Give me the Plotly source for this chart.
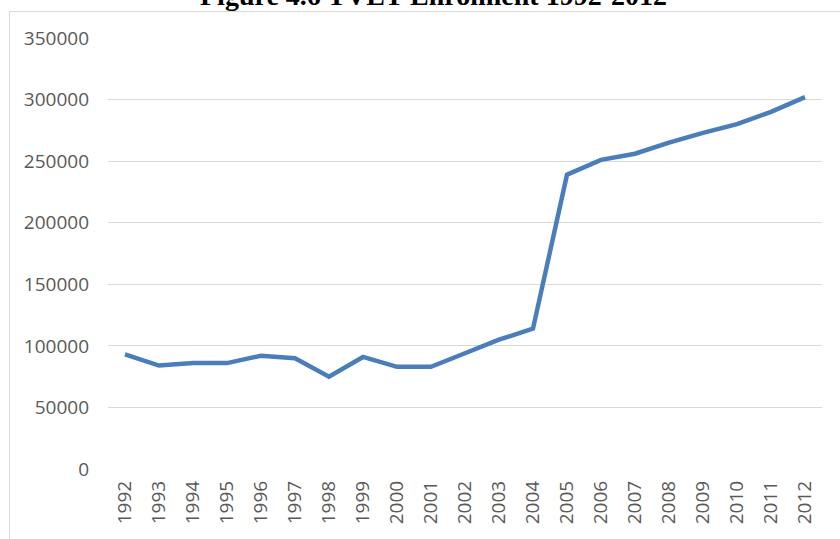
import plotly.graph_objects as go

years = [str(y) for y in range(1992, 2013)]
enrolment = [93000, 84000, 86000, 86000, 92000, 90000, 75000, 91000, 83000, 83000,
             94000, 105000, 114000, 239000, 251000, 256000, 265000, 273000, 280000,
             290000, 302000]
y_ticks = [0, 50000, 100000, 150000, 200000, 250000, 300000, 350000]
title_text = "<b>Figure 4.6 TVET Enrolment 1992-2012</b>"

W, H = 840, 539
L, R, T, B = 108, 18, 38, 70
pw, ph = W - L - R, H - T - B


def px_x(px):
    return (px - L) / pw


def px_y(py):
    return (H - B - py) / ph


fig = go.Figure()
fig.add_trace(go.Scatter(
    x=years, y=enrolment, mode="lines",
    line=dict(color="#4A7EBB", width=4.5),
    hoverinfo="x+y",
))

# light grey frame of the chart area
fig.add_shape(
    type="rect", xref="paper", yref="paper",
    x0=px_x(9.5), x1=px_x(W + 5), y0=px_y(H + 5), y1=px_y(11.5),
    line=dict(color="#D9D9D9", width=1), fillcolor="rgba(0,0,0,0)", layer="below",
)

# title sits partly above the top edge, as in the source image
fig.add_annotation(
    text=title_text, showarrow=False,
    xref="paper", yref="paper", x=px_x(433), y=px_y(-5),
    xanchor="center", yanchor="middle",
    font=dict(family="Liberation Serif", size=28, color="black"),
)

fig.update_layout(
    width=W, height=H,
    margin=dict(l=L, r=R, t=T, b=B),
    paper_bgcolor="white", plot_bgcolor="white",
    showlegend=False,
    font=dict(family="Open Sans", color="#595959"),
)
fig.update_xaxes(
    type="category", tickangle=-90, showgrid=False, showline=False,
    ticks="", tickfont=dict(size=19, color="#595959"), ticklabelstandoff=7,
    range=[-0.5, len(years) - 0.5],
)
fig.update_yaxes(
    range=[0, 350000], tickvals=y_ticks, ticktext=[str(v) for v in y_ticks],
    showgrid=True, gridcolor="#D9D9D9", gridwidth=1,
    zeroline=False, showline=False, ticks="",
    tickfont=dict(size=19, color="#595959"), ticklabelstandoff=18,
)

fig.write_html("out.html", config={"displayModeBar": False},
               post_script="document.body.style.margin='0';")
